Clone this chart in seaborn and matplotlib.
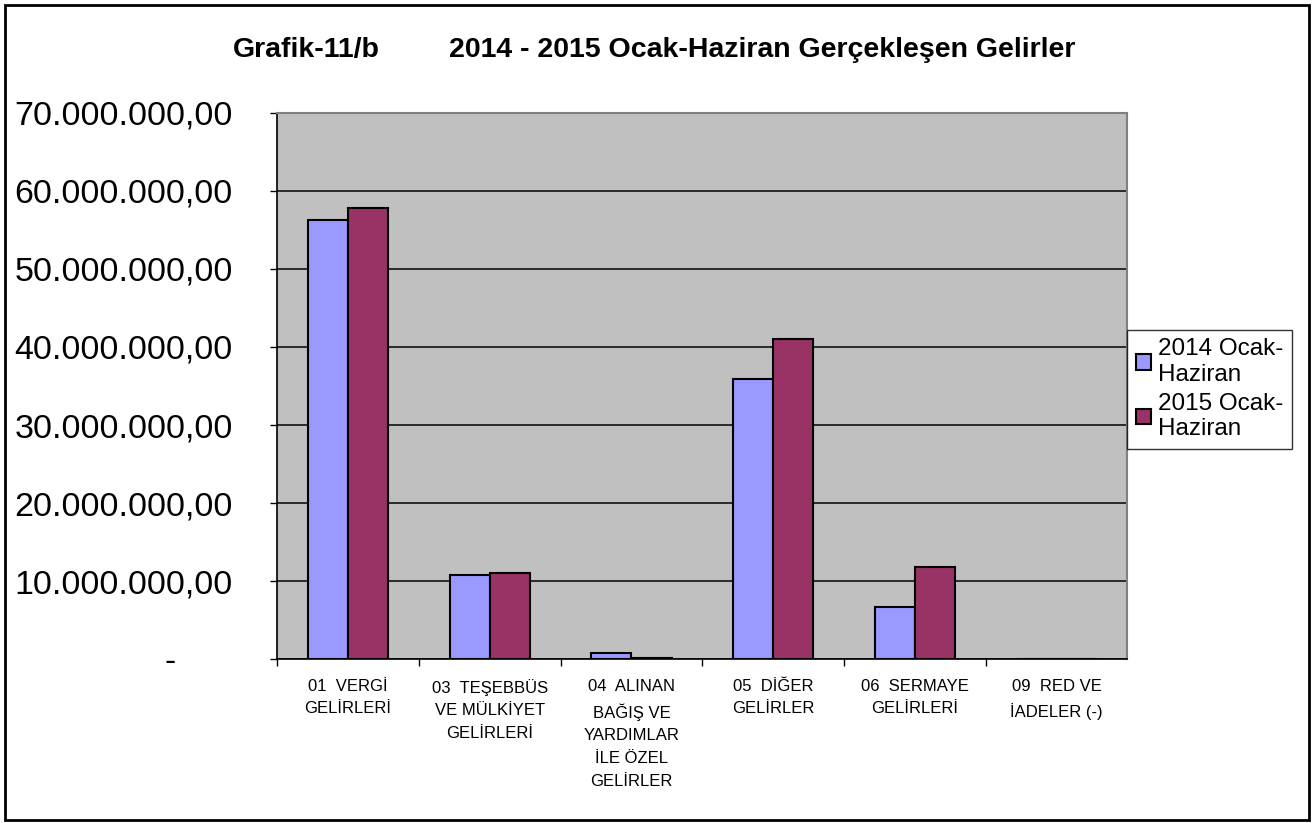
import numpy as np
import pandas as pd
import matplotlib; matplotlib.use("Agg")
import matplotlib.pyplot as plt
import seaborn as sns
from matplotlib import font_manager
from matplotlib.ticker import FuncFormatter, FixedLocator
from matplotlib.patches import Rectangle

# veriler (TL)
KATEGORILER = ["01  VERGİ\nGELİRLERİ",
               "03  TEŞEBBÜS\nVE MÜLKİYET\nGELİRLERİ",
               "04  ALINAN\nBAĞIŞ VE\nYARDIMLAR\nİLE ÖZEL\nGELİRLER",
               "05  DİĞER\nGELİRLER",
               "06  SERMAYE\nGELİRLERİ",
               "09  RED VE\nİADELER (-)"]
DONEMLER = ["2014 Ocak-\nHaziran", "2015 Ocak-\nHaziran"]
GELIR_2014 = [56_300_000, 10_850_000, 770_000, 35_900_000, 6_700_000, 0]
GELIR_2015 = [57_800_000, 11_100_000, 120_000, 41_000_000, 11_800_000, 0]
RENKLER = ["#9999FF", "#993366"]
Y_TICKS = [0, 10e6, 20e6, 30e6, 40e6, 50e6, 60e6, 70e6]

df = pd.DataFrame({
    "kategori": KATEGORILER * 2,
    "donem": [DONEMLER[0]] * len(KATEGORILER) + [DONEMLER[1]] * len(KATEGORILER),
    "gelir": GELIR_2014 + GELIR_2015,
})

sns.set_theme(style="white")
plt.rcParams["font.family"] = ["Liberation Sans", "DejaVu Sans"]
plt.rcParams.update({"text.color": "black", "xtick.color": "black",
                     "ytick.color": "black", "axes.labelcolor": "black"})

installed = {f.name for f in font_manager.fontManager.ttflist}
narrow = "Liberation Sans Narrow" if "Liberation Sans Narrow" in installed else "Liberation Sans"

fig = plt.figure(figsize=(13.14, 8.23), dpi=100)
ax = fig.add_axes([0.211, 0.199, 0.647, 0.664])
ax.set_facecolor("#C0C0C0")

sns.barplot(data=df, x="kategori", y="gelir", hue="donem",
            palette=dict(zip(DONEMLER, RENKLER)), width=0.565, gap=0,
            edgecolor="black", linewidth=1.5, saturation=1, ax=ax)

ax.set_ylim(0, 70e6)
ax.set_xlim(-0.5, len(KATEGORILER) - 0.5)
ax.yaxis.set_major_locator(FixedLocator(Y_TICKS))
ax.set_axisbelow(True)
ax.yaxis.grid(True, color="#111111", linewidth=1.2)


def tr_fmt(v, pos):
    if v == 0:
        return "-      "
    s = f"{v:,.2f}"
    return s.replace(",", "X").replace(".", ",").replace("X", ".")


ax.yaxis.set_major_formatter(FuncFormatter(tr_fmt))
ax.tick_params(axis="y", labelsize=24.5, length=5, width=1, color="black",
               pad=27, left=True, direction="out")
ax.tick_params(axis="x", labelsize=12, length=0, pad=14)
for lbl in ax.get_xticklabels():
    lbl.set_linespacing(1.65)
    lbl.set_fontfamily([narrow, "DejaVu Sans"])
ax.set_xticks(np.arange(len(KATEGORILER)) - 0.5, minor=True)
ax.tick_params(axis="x", which="minor", length=5, width=1, color="black",
               bottom=True, direction="out")

ax.set_xlabel("")
ax.set_ylabel("")
for side in ["top", "right"]:
    ax.spines[side].set_color("#808080")
    ax.spines[side].set_linewidth(1.5)
for side in ["left", "bottom"]:
    ax.spines[side].set_color("black")
    ax.spines[side].set_linewidth(1.2)

leg = ax.legend(loc="center left", bbox_to_anchor=(1.0, 0.494), fontsize=17.5,
                frameon=True, fancybox=False, edgecolor="black",
                handlelength=0.6, handleheight=0.6, handletextpad=0.3,
                borderpad=0.35, labelspacing=0.3, borderaxespad=0)
leg.get_frame().set_linewidth(1)

fig.text(0.177, 0.939, "Grafik-11/b", fontsize=20.5, fontweight="bold",
         ha="left", va="center")
fig.text(0.342, 0.939, "2014 - 2015 Ocak-Haziran Gerçekleşen Gelirler",
         fontsize=20.5, fontweight="bold", ha="left", va="center")

fig.patches.append(Rectangle((0.004, 0.004), 0.992, 0.99, transform=fig.transFigure,
                             fill=False, edgecolor="black", linewidth=2))

fig.savefig("out.png", dpi=100)
